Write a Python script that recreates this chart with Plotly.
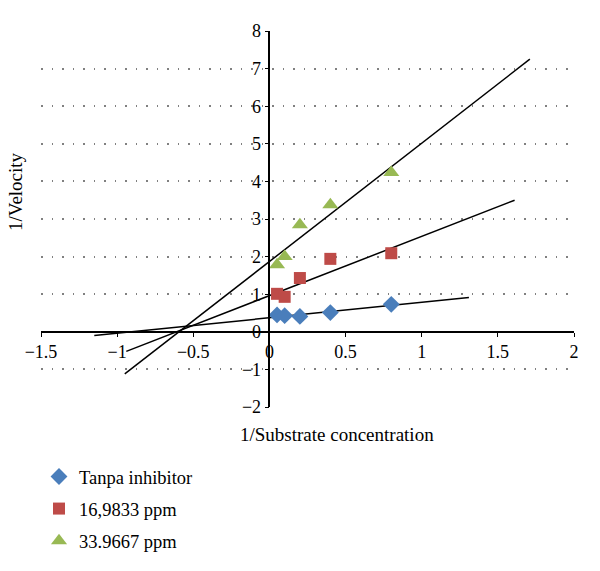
import plotly.graph_objects as go

# Data
x_vals = [0.05, 0.1, 0.2, 0.4, 0.8]
tanpa = [0.45, 0.43, 0.41, 0.51, 0.73]
ppm16 = [1.01, 0.93, 1.43, 1.94, 2.09]
ppm33 = [1.78, 2.00, 2.85, 3.38, 4.24]

# Trend-line endpoints (x start/end, y start/end)
tanpa_line_x = [-1.15, 1.31]
tanpa_line_y = [-0.10, 0.91]
ppm16_line_x = [-0.94, 1.61]
ppm16_line_y = [-0.52, 3.50]
ppm33_line_x = [-0.95, 1.71]
ppm33_line_y = [-1.12, 7.25]

x_ticks = [-1.5, -1, -0.5, 0, 0.5, 1, 1.5, 2]
x_tick_text = ["−1.5", "−1", "−0.5", "0", "0.5", "1", "1.5", "2"]
y_ticks = [-2, -1, 0, 1, 2, 3, 4, 5, 6, 7, 8]

FONT = "Liberation Serif"
FS = 18

L, R, T, B = 41, 26, 31, 164
W, H = 600, 571
pw, ph = W - L - R, H - T - B


def px_to_paper(xp, yp):
    return (xp - L) / pw, (H - yp - B) / ph


fig = go.Figure()

for lx, ly in [(tanpa_line_x, tanpa_line_y), (ppm16_line_x, ppm16_line_y), (ppm33_line_x, ppm33_line_y)]:
    fig.add_trace(go.Scatter(x=lx, y=ly, mode="lines", line=dict(color="black", width=1.5),
                             showlegend=False, hoverinfo="skip"))

fig.add_trace(go.Scatter(x=x_vals, y=tanpa, mode="markers", name="Tanpa inhibitor",
                         legendgroup="a",
                         marker=dict(symbol="diamond", size=13, color="#4A7EBB")))
fig.add_trace(go.Scatter(x=x_vals, y=ppm16, mode="markers", name="16,9833 ppm",
                         legendgroup="b",
                         marker=dict(symbol="square", size=12, color="#BE4B48")))
fig.add_trace(go.Scatter(x=x_vals, y=ppm33, mode="markers", name="33.9667 ppm",
                         legendgroup="c",
                         marker=dict(symbol="triangle-up", size=14, color="#98B954")))

xt_x, xt_y = px_to_paper(337, 434)
yt_x, yt_y = px_to_paper(15, 192)
lg_x, lg_y = px_to_paper(39, 458)

fig.update_layout(
    width=W, height=H,
    margin=dict(l=L, r=R, t=T, b=B, autoexpand=False),
    paper_bgcolor="white", plot_bgcolor="white",
    font=dict(family=FONT, size=FS, color="black"),
    xaxis=dict(range=[-1.5, 2], tickvals=x_ticks, ticktext=x_tick_text,
               showgrid=False, zeroline=False, showline=True, linecolor="black", linewidth=1.5,
               ticks="outside", ticklen=4, tickcolor="black",
               anchor="free", position=0.2, domain=[0, 1]),
    yaxis=dict(range=[-2, 8], tickvals=y_ticks,
               showgrid=True, gridcolor="#808080", griddash="1.5px,9px", gridwidth=1.5,
               zeroline=False, showline=True, linecolor="black", linewidth=1.5,
               ticks="outside", ticklen=4, tickcolor="black",
               anchor="free", position=1.5 / 3.5, domain=[0, 1]),
    legend=dict(x=lg_x, y=lg_y, xanchor="left", yanchor="top",
                tracegroupgap=5, font=dict(size=18.5, family=FONT), bgcolor="rgba(0,0,0,0)"),
    showlegend=True,
    annotations=[
        dict(text="1/Substrate concentration", x=xt_x, y=xt_y, xref="paper", yref="paper",
             xanchor="center", yanchor="middle",
             showarrow=False, font=dict(size=19, family=FONT)),
        dict(text="1/Velocity", textangle=-90, x=yt_x, y=yt_y, xref="paper", yref="paper",
             xanchor="center", yanchor="middle",
             showarrow=False, font=dict(size=19, family=FONT)),
    ],
)

fig.write_html("out.html", config={"displayModeBar": False},
               post_script="document.body.style.margin='0';")
